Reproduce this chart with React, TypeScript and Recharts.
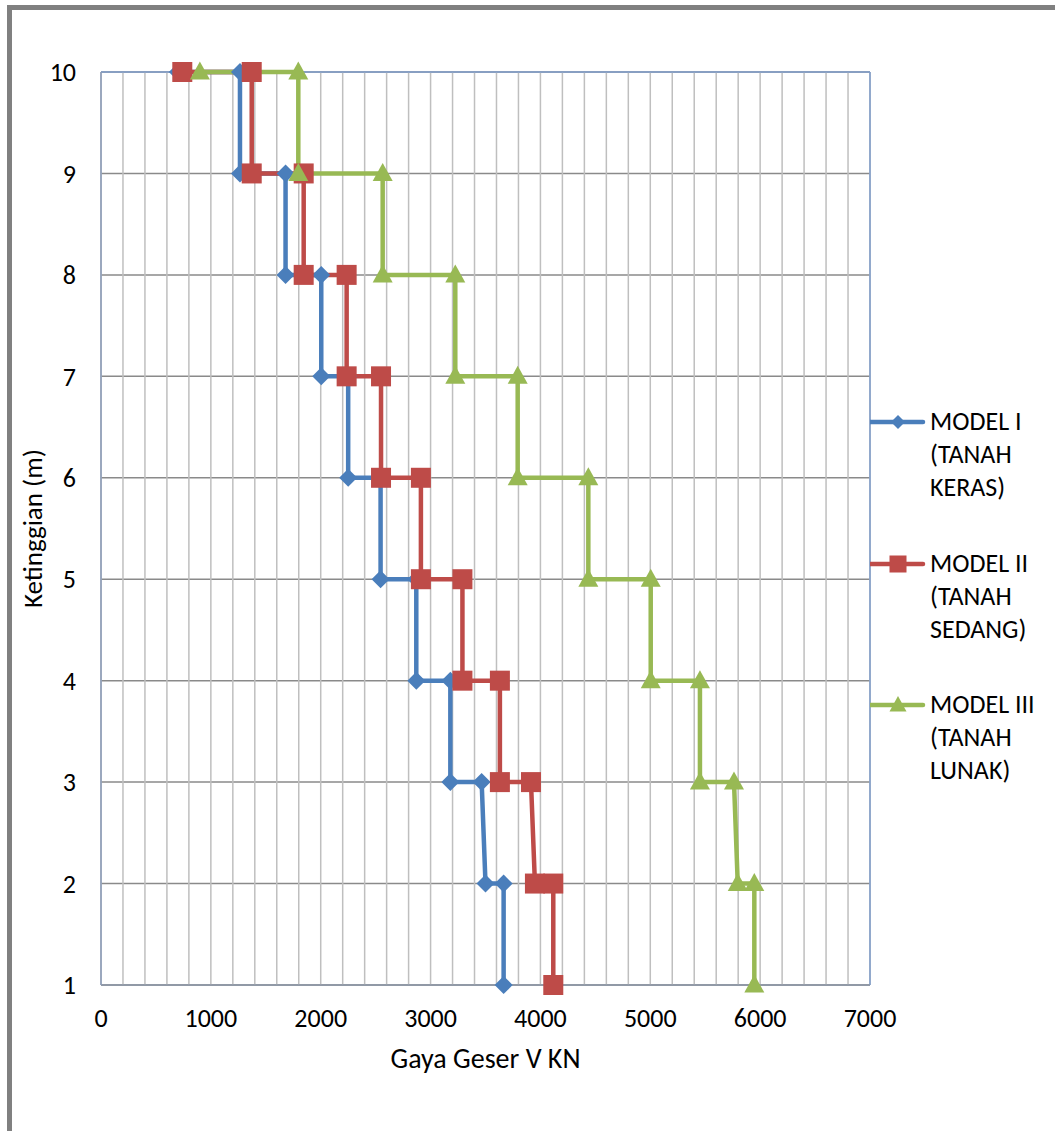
import React from 'react';
import { LineChart, Line, XAxis, YAxis, CartesianGrid, Legend, ReferenceLine } from 'recharts';

// Storey levels (Ketinggian) for every point of the stepped profiles
const levels = [10, 10, 9, 9, 8, 8, 7, 7, 6, 6, 5, 5, 4, 4, 3, 3, 2, 2, 1];

// Shear force V (kN)
const model1V = [700, 1265, 1265, 1680, 1680, 2005, 2005, 2250, 2250, 2545, 2545, 2870, 2870, 3180, 3180, 3465, 3500, 3665, 3665];
const model2V = [740, 1372, 1372, 1845, 1845, 2236, 2236, 2549, 2549, 2912, 2912, 3290, 3290, 3631, 3631, 3914, 3950, 4117, 4117];
const model3V = [900, 1796, 1796, 2564, 2564, 3225, 3225, 3793, 3793, 4436, 4436, 5004, 5004, 5452, 5452, 5762, 5796, 5947, 5947];

const seriesNames = ['MODEL I (TANAH KERAS)', 'MODEL II (TANAH SEDANG)', 'MODEL III (TANAH LUNAK)'];
const legendLines = [
  ['MODEL I', '(TANAH', 'KERAS)'],
  ['MODEL II', '(TANAH', 'SEDANG)'],
  ['MODEL III', '(TANAH', 'LUNAK)'],
];
const xLabelTicks = [0, 1000, 2000, 3000, 4000, 5000, 6000, 7000];
const yTicks = [1, 2, 3, 4, 5, 6, 7, 8, 9, 10];
const xGridTicks = Array.from({ length: 36 }, (_, i) => i * 200);

const colors = ['#4A7EBB', '#BE4B48', '#98B954'];
const FONT = "Carlito, Calibri, 'Open Sans', sans-serif";
const FS = 26;

const toData = (vals: number[]) => vals.map((v, i) => ({ x: v, y: levels[i] }));
const data1 = toData(model1V);
const data2 = toData(model2V);
const data3 = toData(model3V);

const Marker = ({ kind, cx, cy, color, s }: any) => {
  if (kind === 0) {
    return <polygon points={`${cx},${cy - s} ${cx + s},${cy} ${cx},${cy + s} ${cx - s},${cy}`} fill={color} />;
  }
  if (kind === 1) {
    return <rect x={cx - s} y={cy - s} width={2 * s} height={2 * s} fill={color} />;
  }
  return <polygon points={`${cx},${cy - s * 1.05} ${cx + s},${cy + s * 0.75} ${cx - s},${cy + s * 0.75}`} fill={color} />;
};

const makeDot = (kind: number, color: string, s: number) => (props: any) => {
  const { cx, cy, index } = props;
  if (cx == null || cy == null) return <g key={`d${kind}-${index}`} />;
  return (
    <g key={`d${kind}-${index}`}>
      <Marker kind={kind} cx={cx} cy={cy} color={color} s={s} />
    </g>
  );
};

const renderLegend = () => (
  <div style={{ position: 'relative', width: 195, height: 340, fontFamily: FONT, fontSize: FS, color: '#000' }}>
    {legendLines.map((lines, i) => (
      <div key={i} style={{ position: 'absolute', left: 0, top: i * 141.5 }}>
        <svg width={70} height={40} style={{ position: 'absolute', left: 10, top: 2 }}>
          <line x1={0} y1={20} x2={53} y2={20} stroke={colors[i]} strokeWidth={4.5} strokeLinecap="round" />
          <Marker kind={i} cx={28} cy={20} color={colors[i]} s={i === 0 ? 7 : 8.5} />
        </svg>
        <div style={{ position: 'absolute', left: 70, top: 5, lineHeight: '33px', whiteSpace: 'nowrap' }}>
          {lines.map((t, j) => (
            <div key={j}>{t}</div>
          ))}
        </div>
      </div>
    ))}
  </div>
);

export default function App() {
  return (
    <div style={{ position: 'absolute', left: 0, top: 0, width: 1055, height: 1131, overflow: 'hidden', background: '#fff' }}>
      <div
        style={{
          position: 'absolute',
          left: 7,
          top: 5,
          width: 1200,
          height: 1300,
          borderTop: '5px solid #808080',
          borderLeft: '5px solid #808080',
          boxSizing: 'border-box',
        }}
      />
      <div style={{ position: 'absolute', left: 0, top: 0 }}>
        <LineChart
          width={1055}
          height={1131}
          margin={{ top: 72, right: 185, bottom: 116, left: 10 }}
          style={{ fontFamily: FONT }}
        >
          <CartesianGrid vertical={false} horizontal={true} stroke="#8A8A8A" strokeWidth={1.5} />
          <CartesianGrid horizontal={false} vertical={true} stroke="#BFBFBF" strokeWidth={1.5} />
          <XAxis
            type="number"
            dataKey="x"
            domain={[0, 7000]}
            ticks={xGridTicks}
            interval={0}
            allowDataOverflow
            tickFormatter={(v: number) => (xLabelTicks.includes(v) ? String(v) : '')}
            tickLine={false}
            tickSize={0}
            tickMargin={24}
            height={30}
            axisLine={{ stroke: '#8A94A6', strokeWidth: 1.5 }}
            tick={{ fill: '#000', fontSize: FS, fontFamily: FONT }}
            label={{ value: 'Gaya Geser V KN', position: 'bottom', offset: 33, fill: '#000', fontSize: 28, fontFamily: FONT }}
          />
          <YAxis
            type="number"
            dataKey="y"
            domain={[1, 10]}
            ticks={yTicks}
            interval={0}
            tickLine={false}
            tickSize={0}
            tickMargin={25}
            width={91}
            axisLine={{ stroke: '#8A9BB8', strokeWidth: 1.5 }}
            tick={{ fill: '#000', fontSize: FS, fontFamily: FONT }}
            label={{
              value: 'Ketinggian (m)',
              angle: -90,
              position: 'insideLeft',
              offset: 22,
              fill: '#000',
              fontSize: 27,
              fontFamily: FONT,
              style: { textAnchor: 'middle' },
            }}
          />
          <ReferenceLine y={10} stroke="#7E9CCB" strokeWidth={1.5} />
          <ReferenceLine x={7000} stroke="#7E9CCB" strokeWidth={1.5} />
          <Legend
            layout="vertical"
            align="center"
            verticalAlign="middle"
            wrapperStyle={{ left: 860, top: 400, width: 195, height: 340 }}
            content={renderLegend}
          />
          <Line
            data={data1}
            dataKey="y"
            name={seriesNames[0]}
            stroke={colors[0]}
            strokeWidth={4.5}
            dot={makeDot(0, colors[0], 9)}
            activeDot={false}
            isAnimationActive={false}
          />
          <Line
            data={data2}
            dataKey="y"
            name={seriesNames[1]}
            stroke={colors[1]}
            strokeWidth={4.5}
            dot={makeDot(1, colors[1], 10)}
            activeDot={false}
            isAnimationActive={false}
          />
          <Line
            data={data3}
            dataKey="y"
            name={seriesNames[2]}
            stroke={colors[2]}
            strokeWidth={4.5}
            dot={makeDot(2, colors[2], 10)}
            activeDot={false}
            isAnimationActive={false}
          />
        </LineChart>
      </div>
    </div>
  );
}
